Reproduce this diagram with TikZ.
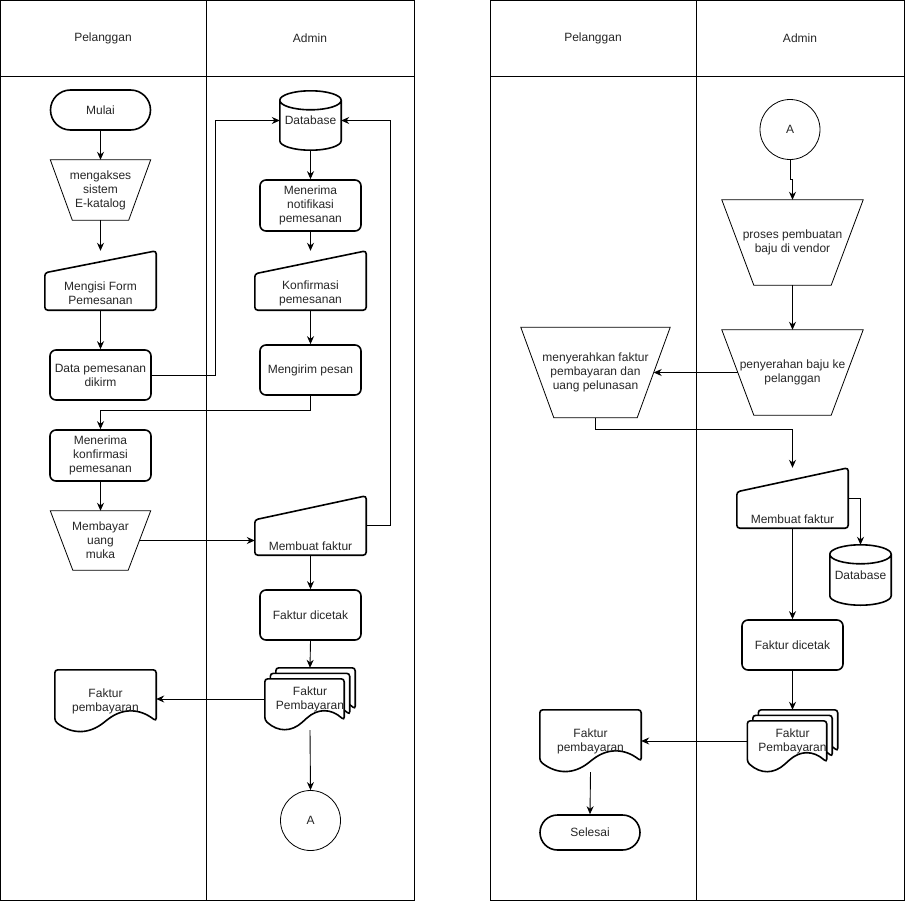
\documentclass[tikz,border=0pt]{standalone}
\usepackage{fontspec}
\setmainfont{Liberation Sans}
\usetikzlibrary{arrows.meta,calc}
\pgfdeclarelayer{background}
\pgfsetlayers{background,main}

\newcommand{\trapshape}[2]{\draw[thinline] (#1.north west) -- (#1.north east) -- ([xshift=-#2]#1.south east) -- ([xshift=#2]#1.south west) -- cycle;}
\newcommand{\inshape}[2]{\draw[shapeline, rounded corners=3pt] ([yshift=-#2]#1.north west) -- (#1.north east) -- (#1.south east) -- (#1.south west) -- cycle;}
\newcommand{\docpage}[3]{%
  \draw[shapeline, fill=white, rounded corners=3pt] let \p1=(#1), \p2=(#2) in
    (\x1,\y1) -- (\x2,\y1) -- ({\x2},{\y2+#3/2})
    .. controls ({\x2-(\x2-\x1)/6},{\y2+1.1*#3}) and ({\x2-(\x2-\x1)/3},{\y2+1.1*#3}) .. ({(\x1+\x2)/2},{\y2+#3/2})
    .. controls ({\x1+(\x2-\x1)/3},{\y2-0.1*#3}) and ({\x1+(\x2-\x1)/6},{\y2-0.1*#3}) .. ({\x1},{\y2+#3/2}) -- cycle;}
\newcommand{\docshape}[2]{\docpage{#1.north west}{#1.south east}{#2}}
\newcommand{\multishape}[3]{%
  \docpage{[xshift=2*#2]#1.north west}{[yshift=2*#2]#1.south east}{#3}
  \docpage{[xshift=#2,yshift=-#2]#1.north west}{[xshift=-#2,yshift=#2]#1.south east}{#3}
  \docpage{[yshift=-2*#2]#1.north west}{[xshift=-2*#2]#1.south east}{#3}}
\newcommand{\dbshape}[2]{%
  \draw[shapeline] let \p1=(#1.north west), \p2=(#1.south east) in
    (\x1,\y1-#2) -- (\x1,\y2+#2) arc[start angle=180, end angle=360, x radius={(\x2-\x1)/2}, y radius=#2]
    -- (\x2,\y1-#2) arc[start angle=0, end angle=180, x radius={(\x2-\x1)/2}, y radius=#2] -- cycle
    (\x1,\y1-#2) arc[start angle=180, end angle=360, x radius={(\x2-\x1)/2}, y radius=#2];}

\begin{document}
\begin{tikzpicture}[x=1pt,y=-1pt,
    lbl/.style={font=\fontsize{12}{14}\selectfont, text=black!85, align=center},
    lane/.style={line width=1pt},
    thinline/.style={line width=0.8pt},
    shapeline/.style={line width=1.6pt},
    sz/.style 2 args={minimum width=#1pt, minimum height=#2pt},
    holder/.style={lbl, rectangle, inner sep=0pt},
    proc/.style={holder, draw, shapeline, rounded corners=6pt, sz={101}{50}},
    term/.style={holder, draw, shapeline, rounded corners=#1},
    term/.default=20pt,
    conn/.style={lbl, circle, draw, thinline, minimum size=60pt, inner sep=0pt},
    arr/.style={line width=0.9pt, -{Stealth[length=8pt,width=7pt]}}]
\useasboundingbox (0,0) rectangle (906,902);

\draw[lane] (0.5,0.5) rectangle (414,900);
\draw[lane] (206,0.5) -- (206,900) (0.5,76) -- (414,76);
\pgfmathsetmacro{\laneR}{490}
\draw[lane] (\laneR,0.5) rectangle (\laneR+414,900);
\draw[lane] (\laneR+206,0.5) -- (\laneR+206,900) (\laneR,76) -- (\laneR+414,76);
\node[lbl] (hp1) at (103,38) {Pelanggan};
\node[lbl] (ha1) at (310,38) {Admin};
\node[lbl] (hp2) at (593,38) {Pelanggan};
\node[lbl] (ha2) at (800,38) {Admin};

\node[term, sz={100}{40}] (mulai) at (100.5,110) {Mulai};
\node[holder, sz={100}{60}] (akses) at (100.5,190) {mengakses\\sistem\\E-katalog};
\node[holder, sz={111}{59}, label={[lbl,yshift=-13pt]center:Mengisi Form\\Pemesanan}] (isi) at (100.5,280.5) {};
\node[proc] (data) at (100.5,375) {Data pemesanan\\dikirm};
\node[proc, sz={101}{51}] (terima) at (100.5,455.5) {Menerima\\konfirmasi\\pemesanan};
\node[holder, sz={100}{59}] (bayar) at (100.5,540.5) {Membayar\\uang\\muka};
\node[holder, sz={101}{62}] (fak) at (105.5,701) {Faktur\\pembayaran};
\node[holder, sz={61}{59}] (db) at (310.5,120.5) {Database};
\node[proc, sz={101}{51}] (notif) at (310.5,205.5) {Menerima\\notifikasi\\pemesanan};
\node[holder, sz={111}{59}, label={[lbl,yshift=-13pt]center:Konfirmasi\\pemesanan}] (konf) at (310.5,280.5) {};
\node[proc] (kirim) at (310.5,370) {Mengirim pesan};
\node[holder, sz={111}{59}, label={[lbl,yshift=-20.5pt]center:Membuat faktur}] (buat) at (310.5,525.5) {};
\node[proc] (cetak) at (310.5,615) {Faktur dicetak};
\node[holder, sz={90}{62}] (multi) at (310,699) {Faktur\\Pembayaran};
\node[conn] (conA) at (310.5,820.5) {A};

\node[conn] (conA2) at (790,129.5) {A};
\node[holder, sz={141}{85}] (proses) at (792.5,242.5) {proses pembuatan\\baju di vendor};
\node[holder, sz={141}{85}] (serah) at (792.5,372.5) {penyerahan baju ke\\pelanggan};
\node[holder, sz={149}{90}] (nyerah) at (595.5,372.5) {menyerahkan faktur\\pembayaran dan\\uang pelunasan};
\node[holder, sz={111}{60}, label={[lbl,yshift=-21pt]center:Membuat faktur}] (buat2) at (792.5,498) {};
\node[holder, sz={61}{60}] (db2) at (860.5,575) {Database};
\node[proc] (cetak2) at (792.5,645) {Faktur dicetak};
\node[holder, sz={90}{62}] (multi2) at (792.5,741) {Faktur\\Pembayaran};
\node[holder, sz={101}{62}] (fak2) at (590.5,741) {Faktur\\pembayaran};
\node[term=17.5pt, sz={100}{35}] (selesai) at (590,832.5) {Selesai};

\begin{pgfonlayer}{background}
\trapshape{akses}{22pt}
\trapshape{bayar}{22.5pt}
\trapshape{proses}{32pt}
\trapshape{serah}{32pt}
\trapshape{nyerah}{33pt}
\inshape{isi}{22pt}
\inshape{konf}{23pt}
\inshape{buat}{24pt}
\inshape{buat2}{24pt}
\dbshape{db}{9.5pt}
\dbshape{db2}{9.5pt}
\docshape{fak}{22pt}
\docshape{fak2}{22pt}
\multishape{multi}{5.5pt}{20pt}
\multishape{multi2}{5.5pt}{20pt}
\end{pgfonlayer}

\draw[arr] (mulai.south) -- (akses.north);
\draw[arr] (akses.south) -- (isi.north);
\draw[arr] (isi.south) -- (data.north);
\draw[arr] (data.east) -- (215,375) |- (db.west);
\draw[arr] (db.south) -- (notif.north);
\draw[arr] (notif.south) -- (konf.north);
\draw[arr] (konf.south) -- (kirim.north);
\draw[arr] (kirim.south) -- ++(0,15) -| (terima.north);
\draw[arr] (terima.south) -- (bayar.north);
\draw[arr] ([xshift=-11pt]bayar.east) -- (bayar.east -| buat.west);
\draw[arr] (buat.east) -- (390,525.5) |- (db.east);
\draw[arr] (buat.south) -- (cetak.north);
\draw[arr] (cetak.south) -- (multi.north);
\draw[arr] (multi.west) -- (multi.west -| fak.east);
\draw[arr] (multi.south) -- (conA.north);

\draw[arr] (conA2.south) -- ++(0,20) -| (proses.north);
\draw[arr] (proses.south) -- (serah.north);
\draw[arr] ([xshift=16pt]serah.west) -- ([xshift=-16.5pt]nyerah.east);
\draw[arr] (nyerah.south) -- ++(0,12) -| (buat2.north);
\draw[arr] (buat2.east) -| (db2.north);
\draw[arr] (buat2.south) -- (cetak2.north);
\draw[arr] (cetak2.south) -- (multi2.north);
\draw[arr] (multi2.west) -- (fak2.east);
\draw[arr] (fak2.south) -- (selesai.north);
\end{tikzpicture}
\end{document}
